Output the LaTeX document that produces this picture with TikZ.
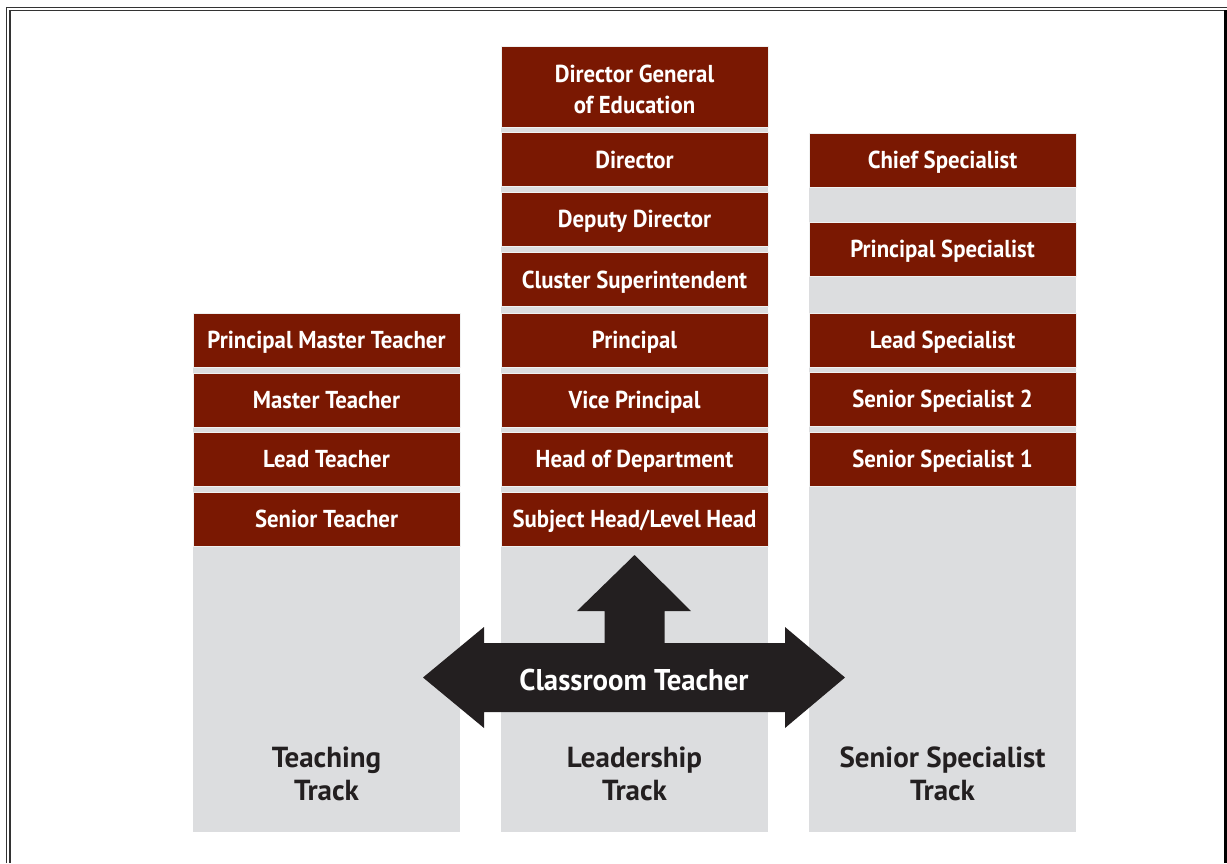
\documentclass[tikz,border=0pt]{standalone}
\usepackage{fontspec}
\newfontfamily\condfont{PT Sans}[FakeStretch=0.93]
\newfontfamily\arrowfont{PT Sans}[FakeStretch=0.96]
\newfontfamily\labelfont{PT Sans}[FakeStretch=1.0]
\definecolor{maroon}{RGB}{122,24,2}
\definecolor{colgrey}{RGB}{220,221,223}
\definecolor{arrowdark}{RGB}{35,31,32}
\definecolor{labeldark}{RGB}{35,31,32}
\tikzset{
  redbox/.style={fill=maroon, draw=white!88!gray, line width=0.8pt, minimum width=267pt, inner sep=0pt,
    text=white, font=\condfont\bfseries\fontsize{24.5}{31}\selectfont, text height=17pt, text depth=0pt},
  tracklabel/.style={anchor=base, text=labeldark, inner sep=0pt, font=\labelfont\bfseries\fontsize{29}{33}\selectfont},
  framewire/.style={draw=black!80, line width=1.3pt}
}
\begin{document}
\begin{tikzpicture}[x=1pt,y=-1pt]
\useasboundingbox (0,0) rectangle (1227,863);
% frame
\draw[framewire] (6.5,863) -- (6.5,7.5) -- (1227,7.5);
\draw[framewire] (10,863) -- (10,10.5) -- (1224,10.5);
\draw[black, line width=3pt] (1225.5,10) -- (1225.5,863);
% grey columns
\fill[colgrey] (193,313) rectangle (460,832);
\fill[colgrey] (501,46) rectangle (768,832);
\fill[colgrey] (809,133) rectangle (1076,832);
% teaching track
\node[redbox, minimum height=54pt] (pmt) at (326.5,340) {Principal Master Teacher};
\node[redbox, minimum height=54pt] (mt) at (326.5,400) {Master Teacher};
\node[redbox, minimum height=54pt] (lt) at (326.5,459) {Lead Teacher};
\node[redbox, minimum height=54pt] (st) at (326.5,519) {Senior Teacher};
% leadership track
\node[redbox, minimum height=81pt, align=center, text height=, text depth=] (dg) at (634.5,86.5) {\rule{0pt}{22.5pt}Director General\\of Education};
\node[redbox, minimum height=54pt] (dir) at (634.5,159.5) {Director};
\node[redbox, minimum height=54pt] (dd) at (634.5,219) {Deputy Director};
\node[redbox, minimum height=54pt] (cs) at (634.5,279.5) {Cluster Superintendent};
\node[redbox, minimum height=54pt] (pr) at (634.5,340) {Principal};
\node[redbox, minimum height=54pt] (vp) at (634.5,400) {Vice Principal};
\node[redbox, minimum height=54pt] (hod) at (634.5,459) {Head of Department};
\node[redbox, minimum height=54pt] (sh) at (634.5,519) {Subject Head/Level Head};
% specialist track
\node[redbox, minimum height=54pt] (chs) at (942.5,160) {Chief Specialist};
\node[redbox, minimum height=54pt] (prs) at (942.5,249) {Principal Specialist};
\node[redbox, minimum height=54pt] (ls) at (942.5,340) {Lead Specialist};
\node[redbox, minimum height=54pt] (ss2) at (942.5,399) {Senior Specialist 2};
\node[redbox, minimum height=54pt] (ss1) at (942.5,459) {Senior Specialist 1};
% arrow
\fill[arrowdark] (634.5,555) -- (691,611) -- (664.5,611) -- (664.5,643) -- (785,643) -- (785,627)
  -- (845,677.5) -- (785,728) -- (785,712) -- (484,712) -- (484,728) -- (423,677.5) -- (484,627)
  -- (484,643) -- (604.5,643) -- (604.5,611) -- (577,611) -- cycle;
\node[text=white, inner sep=0pt, font=\arrowfont\bfseries\fontsize{30}{36}\selectfont, text height=21pt, text depth=0pt] (ct) at (634,679.5) {Classroom Teacher};
% track labels
\node[tracklabel] (tt1) at (326.5,767) {Teaching};
\node[tracklabel] (tt2) at (326.5,800) {Track};
\node[tracklabel] (lt1) at (634.5,767) {Leadership};
\node[tracklabel] (lt2) at (634.5,800) {Track};
\node[tracklabel] (st1) at (942.5,767) {Senior Specialist};
\node[tracklabel] (st2) at (942.5,800) {Track};
\end{tikzpicture}
\end{document}
